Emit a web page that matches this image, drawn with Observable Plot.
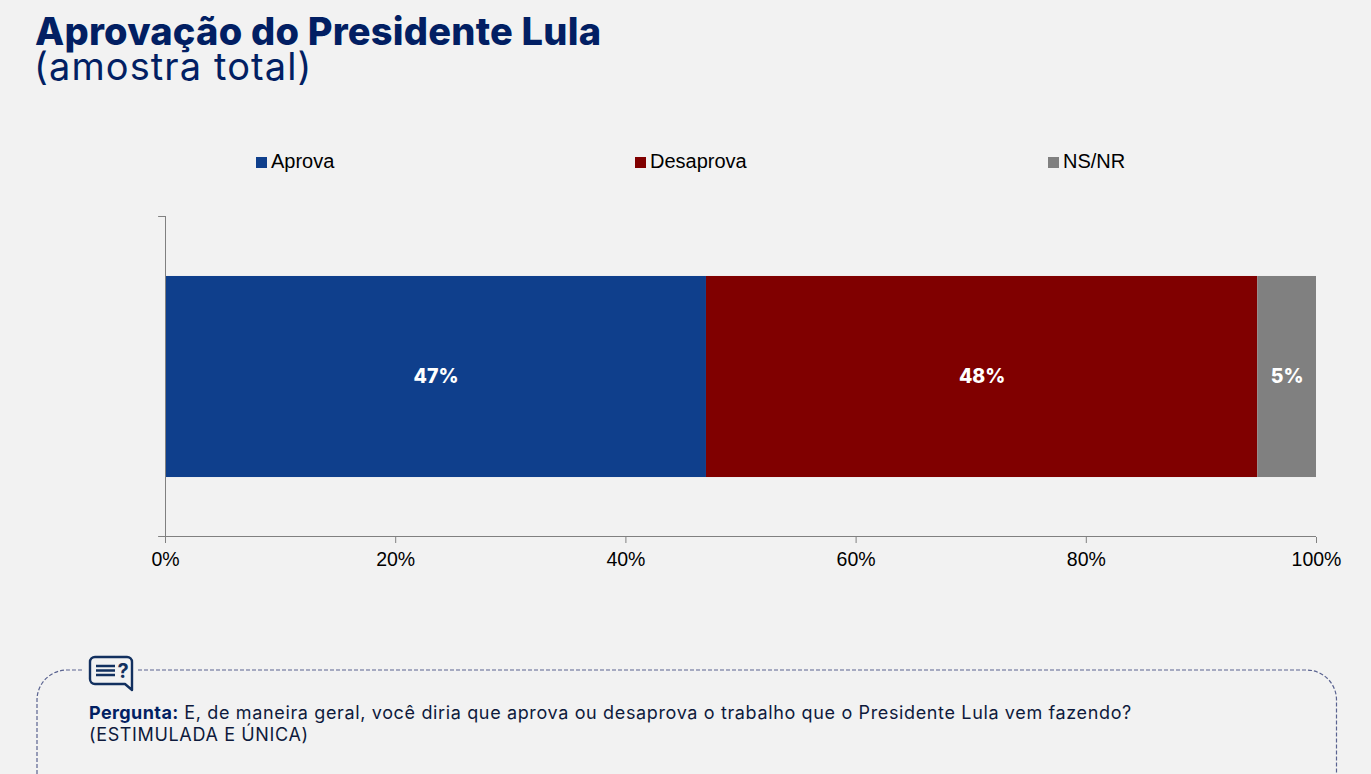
<!DOCTYPE html>
<html lang="pt">
<head>
<meta charset="utf-8">
<script src="https://cdn.jsdelivr.net/npm/d3@7"></script>
<script src="https://cdn.jsdelivr.net/npm/@observablehq/plot@0.6"></script>
<style>
html,body{margin:0;padding:0;background:#f2f2f2;overflow:hidden;width:1371px;height:774px;}
#title{position:absolute;left:35px;top:13px;font:800 38px/36px Inter,sans-serif;color:#021f63;white-space:nowrap;letter-spacing:0.22px}
#subtitle{position:absolute;left:34px;top:49px;font:400 38px/34px Inter,sans-serif;color:#021f63;white-space:nowrap;letter-spacing:1.1px}
#chart{position:absolute;left:0;top:0}
#chart svg{background:transparent}
.legend{position:absolute;top:150px;font:20px/22px "Liberation Sans",sans-serif;color:#000;white-space:nowrap}
.legend i{display:inline-block;width:11px;height:11px;margin-right:4px}
#box{position:absolute;left:0;top:640px}
#q{position:absolute;left:89px;top:702px;font:400 18px/22px Inter,sans-serif;color:#0e1a3c;white-space:nowrap;letter-spacing:0.64px}
#q b{color:#021f63;font-weight:700;letter-spacing:0.4px}
</style>
</head>
<body>
<div id="chart"></div>
<div id="title">Aprovação do Presidente Lula</div>
<div id="subtitle">(amostra total)</div>
<div id="legend"></div>
<svg id="box" width="1371" height="134" viewBox="0 640 1371 134">
  <path d="M37 774V700a30 30 0 0 1 30-30H83M138 670H1306.500a30 30 0 0 1 30 30V774" fill="none" stroke="#5a6390" stroke-width="1.2" stroke-dasharray="4 2"/>
  <path d="M95 657H127a5 5 0 0 1 5 5V690L125 684H95a5 5 0 0 1-5-5V662a5 5 0 0 1 5-5Z" fill="#f2f2f2" stroke="#12305f" stroke-width="2.4" stroke-linejoin="round"/>
  <path d="M96 666H115M96 670.500H115M96 675H115" stroke="#12305f" stroke-width="2.4"/>
  <text x="123" y="678" text-anchor="middle" font-family="Inter,sans-serif" font-weight="700" font-size="20" fill="#12305f">?</text>
</svg>
<div id="q"><b>Pergunta:</b> E, de maneira geral, você diria que aprova ou desaprova o trabalho que o Presidente Lula vem fazendo?<br>(ESTIMULADA E ÚNICA)</div>
<script>
const categories = ["Aprova", "Desaprova", "NS/NR"];
const values = [47, 47.9, 5.1];
const colors = ["#0f3f8c", "#800000", "#808080"];
const labels = ["47%", "48%", "5%"];
const legendLeft = [256, 635, 1048];
const xTicks = [0, 20, 40, 60, 80, 100];
const group = "Lula";

let acc = 0;
const rows = categories.map((c, i) => {
  const r = {category: c, group, x1: acc, x2: acc + values[i], label: labels[i]};
  acc += values[i];
  return r;
});

const chart = Plot.plot({
  width: 1371,
  height: 600,
  marginLeft: 165,
  marginRight: 55,
  marginTop: 216,
  marginBottom: 63,
  style: {background: "transparent"},
  x: {domain: [0, 100], ticks: xTicks, axis: null},
  y: {domain: [group], padding: 0.2298, round: false, axis: null},
  color: {domain: categories, range: colors},
  marks: [
    Plot.barX(rows, {x1: "x1", x2: "x2", y: "group", fill: "category"}),
    Plot.ruleX([0], {stroke: "#808080", strokeWidth: 1}),
    Plot.ruleY([group], {x1: -0.6, x2: 0, dy: -160.5, stroke: "#808080", strokeWidth: 1}),
    Plot.ruleY([group], {x1: -0.6, x2: 100, dy: 159.5, stroke: "#808080", strokeWidth: 1}),
    Plot.axisX({
      ticks: xTicks, tickSize: 6, tickPadding: 9, anchor: "bottom",
      tickFormat: d => d + "%", label: null, stroke: "#808080",
      fontSize: 19.5, fontFamily: "Liberation Sans, sans-serif", fill: "#000"
    }),
    Plot.text(rows, {
      x: d => (d.x1 + d.x2) / 2, y: "group", text: "label", fill: "#fff",
      fontSize: 19.5, fontWeight: 800, fontFamily: "Inter, sans-serif"
    })
  ]
});
document.getElementById("chart").append(chart);

const legend = document.getElementById("legend");
categories.forEach((c, i) => {
  const d = document.createElement("div");
  d.className = "legend";
  d.style.left = legendLeft[i] + "px";
  const sw = document.createElement("i");
  sw.style.background = colors[i];
  d.append(sw, c);
  legend.append(d);
});
</script>
</body>
</html>
